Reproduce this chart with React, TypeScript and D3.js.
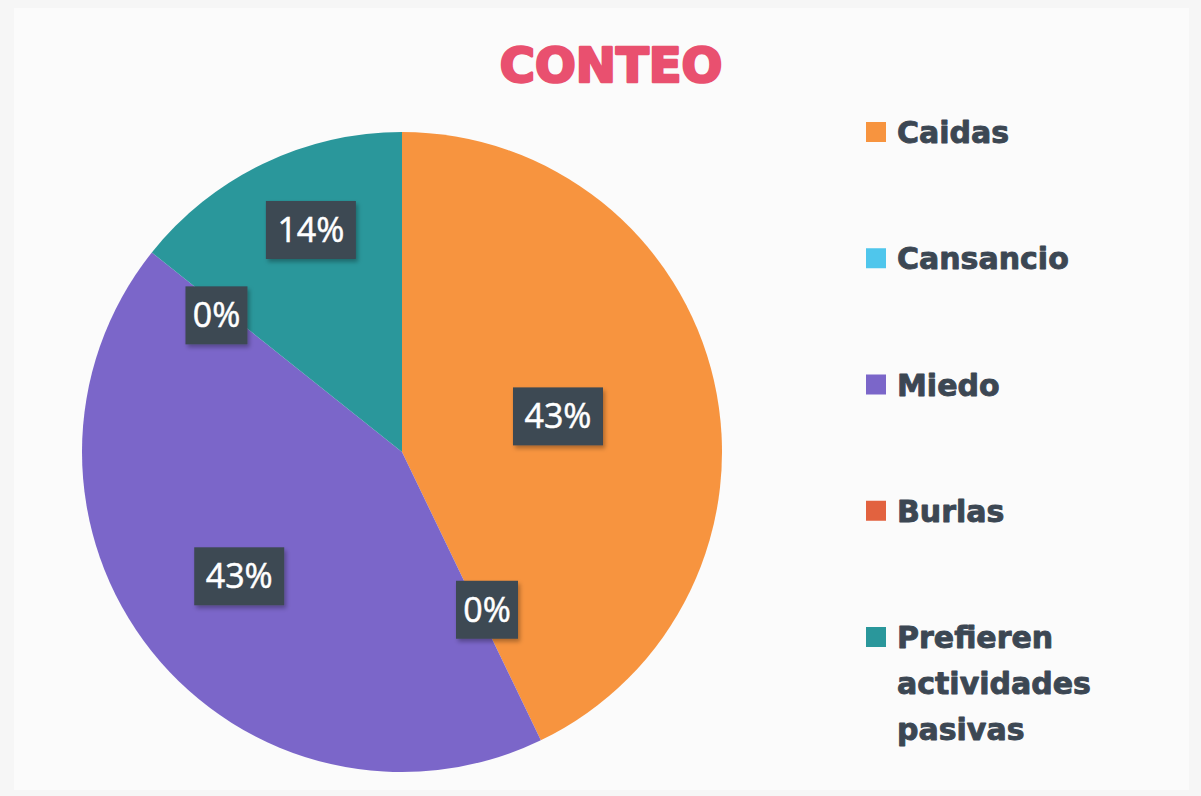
import React from "react";
import * as d3 from "d3";

const categories = ["Caidas", "Cansancio", "Miedo", "Burlas", "Prefieren actividades pasivas"];
const legendLines = [["Caidas"], ["Cansancio"], ["Miedo"], ["Burlas"], ["Prefieren", "actividades", "pasivas"]];
const counts = [3, 0, 3, 0, 1];
const colors = ["#F7943F", "#4FC6EC", "#7B66C9", "#E2623F", "#2A979B"];
const title = "CONTEO";

// label placement (fraction of radius, angle nudge in degrees) — layout only
const labelRadius = [0.5, 0.56, 0.64, 0.72, 0.75];
const labelNudge = [0, -2.6, 1.2, -2.2, 3.4];

const W = 1201;
const H = 796;
const cx = 402;
const cy = 452;
const R = 320;

export default function App() {
  const total = d3.sum(counts);
  const pie = d3.pie<number>().sort(null).value((d) => d);
  const arcs = pie(counts);
  const arc = d3.arc<d3.PieArcDatum<number>>().innerRadius(0).outerRadius(R);
  const pct = (v: number) => `${Math.round((v / total) * 100)}%`;

  const legendX = 866;
  const legendY = d3.scaleLinear().domain([0, 4]).range([132, 637]);

  return (
    <svg width={W} height={H} style={{ position: "absolute", left: 0, top: 0 }}>
      <defs>
        <filter id="sh" x="-20%" y="-20%" width="150%" height="150%">
          <feDropShadow dx="2" dy="3" stdDeviation="2" floodColor="#000" floodOpacity="0.3" />
        </filter>
      </defs>
      <rect width={W} height={H} fill="#f6f6f6" />
      <rect x={14} y={8} width={1175} height={782} fill="#fbfbfb" />
      <text
        x={611}
        y={82}
        textAnchor="middle"
        fontFamily="DejaVu Sans"
        fontWeight="bold"
        fontSize={48}
        fill="#E9506F"
        stroke="#E9506F"
        strokeWidth={2.6}
        strokeLinejoin="round"
      >
        {title}
      </text>
      <g transform={`translate(${cx},${cy})`}>
        {arcs.map((a, i) => (
          <path key={i} d={arc(a) || ""} fill={colors[i]} />
        ))}
        {arcs.map((a, i) => {
          const mid = (a.startAngle + a.endAngle) / 2 + (labelNudge[i] * Math.PI) / 180;
          const r = R * labelRadius[i];
          const x = Math.sin(mid) * r;
          const y = -Math.cos(mid) * r;
          const txt = pct(a.value);
          const bw = txt.length === 3 ? 90 : 62;
          const bh = 58;
          return (
            <g key={i} transform={`translate(${x},${y})`}>
              <rect x={-bw / 2} y={-bh / 2} width={bw} height={bh} fill="#3D4852" filter="url(#sh)" />
              <text
                x={0}
                y={12}
                textAnchor="middle"
                fontFamily="Open Sans"
                fontSize={34}
                fill="#ffffff"
                stroke="#ffffff"
                strokeWidth={0.5}
              >
                {txt}
              </text>
            </g>
          );
        })}
      </g>
      {categories.map((c, i) => {
        const y = legendY(i);
        return (
          <g key={c}>
            <rect x={legendX} y={y - 10} width={20} height={20} fill={colors[i]} />
            {legendLines[i].map((line, j) => (
              <text
                key={j}
                x={897}
                y={y + 11 + j * 46}
                fontFamily="DejaVu Sans"
                fontWeight="bold"
                fontSize={30}
                fill="#3C4753"
                stroke="#3C4753"
                strokeWidth={0.9}
                strokeLinejoin="round"
              >
                {line}
              </text>
            ))}
          </g>
        );
      })}
    </svg>
  );
}
